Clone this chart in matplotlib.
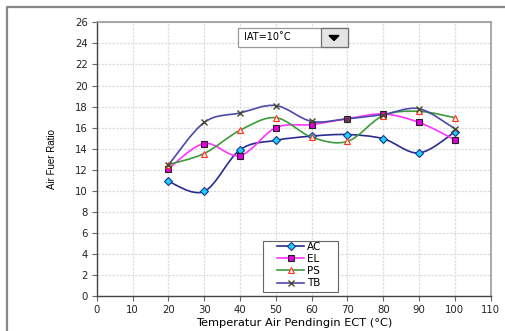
import numpy as np
import matplotlib
matplotlib.use('Agg')
import matplotlib.pyplot as plt
from matplotlib.path import Path
from matplotlib.patches import PathPatch, Rectangle, Polygon
from matplotlib.lines import Line2D

plt.rcParams['font.family'] = ['DejaVu Sans']

# data
ect = [20, 30, 40, 50, 60, 70, 80, 90, 100]
afr_ac = [10.9, 9.95, 13.9, 14.8, 15.2, 15.35, 14.95, 13.6, 15.6]
afr_el = [12.1, 14.5, 13.35, 16.0, 16.3, 16.85, 17.3, 16.5, 14.85]
afr_ps = [12.5, 13.55, 15.75, 16.95, 15.1, 14.7, 17.15, 17.55, 16.95]
afr_tb = [12.45, 16.5, 17.4, 18.1, 16.6, 16.85, 17.25, 17.8, 15.9]
labels = ['AC', 'EL', 'PS', 'TB']
xticks = list(range(0, 111, 10))
yticks = list(range(0, 27, 2))


def smooth_path(x, y):
	# excel-like smoothed line: cubic bezier segments through the points
	x = np.asarray(x, float)
	y = np.asarray(y, float)
	n = len(x)
	verts = [(x[0], y[0])]
	codes = [Path.MOVETO]
	for i in range(n - 1):
		i0 = max(i - 1, 0)
		i3 = min(i + 2, n - 1)
		c1 = (x[i] + (x[i + 1] - x[i0]) / 6., y[i] + (y[i + 1] - y[i0]) / 6.)
		c2 = (x[i + 1] - (x[i3] - x[i]) / 6., y[i + 1] - (y[i3] - y[i]) / 6.)
		verts += [c1, c2, (x[i + 1], y[i + 1])]
		codes += [Path.CURVE4] * 3
	return Path(verts, codes)


W, H = 505., 331.
fig = plt.figure(figsize=(5.05, 3.31), dpi=100)
ax = fig.add_axes([0.1915, 0.1048, 0.7802, 0.8278])

styles = [
	(afr_ac, '#2b2b8f', dict(marker='D', ms=4, mfc='#19d3f0', mec='#1f2f9a', mew=0.8)),
	(afr_el, '#ff33ff', dict(marker='s', ms=4.5, mfc='#e000e0', mec='#222222', mew=0.8)),
	(afr_ps, '#3c9c3c', dict(marker='^', ms=4.5, mfc='#ffe8e0', mec='#ff3322', mew=0.8)),
	(afr_tb, '#4a4aa8', dict(marker='x', ms=4.5, mec='#4a4a2a', mew=1.0)),
]
handles = []
for (vals, col, mk), lab in zip(styles, labels):
	ax.add_patch(PathPatch(smooth_path(ect, vals), fill=False, edgecolor=col, lw=1.2, zorder=3))
	ax.plot(ect, vals, ls='none', zorder=4, **mk)
	handles.append(Line2D([], [], color=col, lw=1.2, **mk))

ax.set_xlim(0, 110)
ax.set_ylim(0, 26)
ax.set_xticks(xticks)
ax.set_yticks(yticks)
ax.grid(True, color='#dedede', lw=0.9, ls=(0, (2, 1)))
ax.set_axisbelow(True)
for s in ['top', 'right']:
	ax.spines[s].set_color('#9a9a9a')
	ax.spines[s].set_linewidth(1.2)
for s in ['left', 'bottom']:
	ax.spines[s].set_color('#444444')
	ax.spines[s].set_linewidth(1.0)
ax.tick_params(labelsize=7.3, length=3.5, width=0.8, colors='#666666', labelcolor='#222222', pad=3)
ax.set_xlabel('Temperatur Air Pendingin ECT (°C)', fontsize=8.2, labelpad=2)
ax.set_ylabel('Air Fuer Ratio', fontsize=7, family=['Liberation Sans'], labelpad=13)

# legend: entries without frame, plus a frame box drawn by hand
leg = ax.legend(handles, labels, loc='upper left', bbox_to_anchor=(277 / W, 1 - 241.5 / H),
	bbox_transform=fig.transFigure, fontsize=7.5, handlelength=2.6, handletextpad=0.3,
	labelspacing=0.22, borderpad=0, borderaxespad=0, frameon=False)
ax.add_patch(Rectangle((263 / W, 1 - 292 / H), 75 / W, 51 / H, transform=fig.transFigure,
	facecolor='white', edgecolor='#666666', lw=0.8, zorder=4.5))
leg.set_zorder(6)

# drop-down box with the IAT setting
fig.patches.append(Rectangle((238 / W, 1 - 47.3 / H), 110 / W, 19.6 / H, transform=fig.transFigure,
	facecolor='white', edgecolor='#9a9a9a', lw=0.9))
fig.patches.append(Rectangle((320.5 / W, 1 - 47 / H), 27 / W, 19 / H, transform=fig.transFigure,
	facecolor='#e4e4e4', edgecolor='#707070', lw=0.9))
fig.patches.append(Polygon([(329 / W, 1 - 35.5 / H), (339 / W, 1 - 35.5 / H), (334 / W, 1 - 40.5 / H)],
	closed=True, transform=fig.transFigure, facecolor='black', edgecolor='black'))
fig.text(244 / W, 1 - 37.5 / H, 'IAT=10˚C', fontsize=7, va='center', ha='left')

# outer frame of the picture
fig.add_artist(Line2D([7 / W, 7 / W, 1], [0, 1 - 7 / H, 1 - 7 / H], transform=fig.transFigure,
	color='#888888', lw=1.6))

fig.savefig('out.png', dpi=100)
